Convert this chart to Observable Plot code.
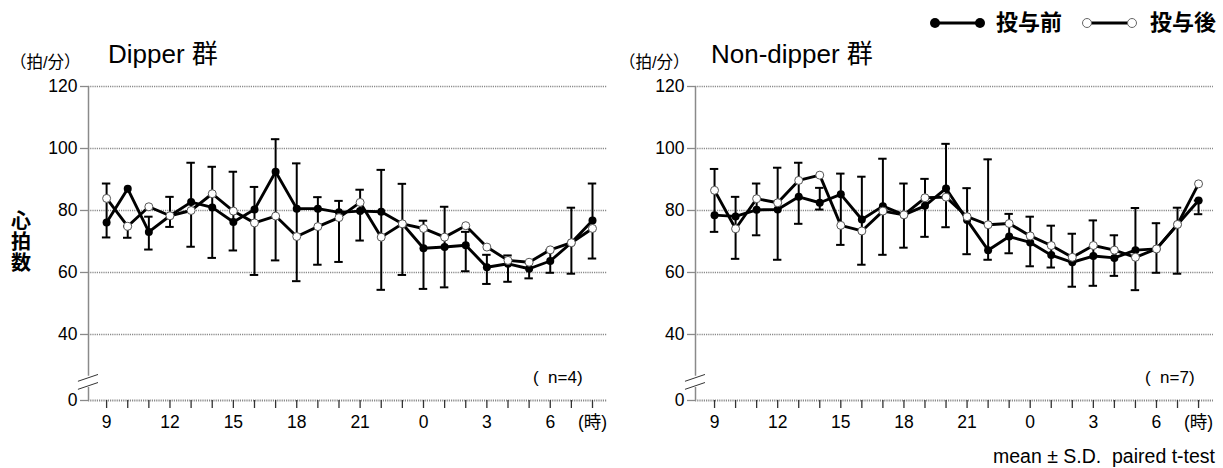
<!DOCTYPE html>
<html><head><meta charset="utf-8">
<script src="https://cdn.jsdelivr.net/npm/d3@7"></script>
<script src="https://cdn.jsdelivr.net/npm/@observablehq/plot@0.6"></script>
<style>
body{margin:0;background:#fff;}
#wrap{position:relative;width:1223px;height:468px;overflow:hidden;font-family:'Liberation Sans','Noto Sans CJK JP',sans-serif;color:#000;}
.abs{position:absolute;white-space:nowrap;line-height:1;}
.panel{position:absolute;top:0;}
</style></head><body><div id="wrap">
<div class="abs" style="left:10px;top:54px;font-size:16.5px;">（拍/分）</div>
<div class="abs" style="left:108px;top:41px;font-size:26px;">Dipper 群</div>
<div class="abs" style="left:11px;top:211px;font-size:20px;font-weight:bold;line-height:21px;width:22px;">心<br>拍<br>数</div>
<div class="abs" style="left:533px;top:369px;font-size:17px;">(&nbsp;&nbsp;n=4)</div>
<div class="abs" style="left:619px;top:54px;font-size:16.5px;">（拍/分）</div>
<div class="abs" style="left:711px;top:41px;font-size:26px;">Non-dipper 群</div>
<div class="abs" style="left:1145px;top:369px;font-size:17px;">(&nbsp;&nbsp;n=7)</div>
<svg class="abs" style="left:926px;top:13px;" width="62" height="20"><line x1="9" y1="10" x2="54" y2="10" stroke="#000" stroke-width="3"/><circle cx="9" cy="10" r="5" fill="#000"/><circle cx="54" cy="10" r="5" fill="#000"/></svg>
<div class="abs" style="left:996px;top:12px;font-size:22px;font-weight:bold;">投与前</div>
<svg class="abs" style="left:1078px;top:13px;" width="62" height="20"><line x1="9" y1="10" x2="54" y2="10" stroke="#000" stroke-width="3"/><circle cx="9" cy="10" r="4.5" fill="#fff" stroke="#666" stroke-width="1"/><circle cx="54" cy="10" r="4.5" fill="#fff" stroke="#666" stroke-width="1"/></svg>
<div class="abs" style="left:1150px;top:12px;font-size:22px;font-weight:bold;">投与後</div>
<div class="abs" style="right:8px;top:447px;font-size:19.5px;">mean ± S.D.&nbsp;&nbsp;paired t-test</div>
</div>
<script>
// clock hours, 9:00 through 8:00 next morning
const hours = [9,10,11,12,13,14,15,16,17,18,19,20,21,22,23,0,1,2,3,4,5,6,7,8];
const labeledHours = [9,12,15,18,21,0,3,6];
const unitLabel = "(時)";
const yTicks = [40,60,80,100,120];

// Dipper group (n=4)
const dipperPre  = [76.1,87.0,73.1,78.3,82.7,81.0,76.3,80.3,92.5,80.6,80.6,79.4,79.8,79.6,75.7,67.8,68.2,68.8,61.7,62.8,61.2,63.7,69.6,76.8];
const dipperPost = [83.9,74.9,81.2,78.3,80.0,85.4,79.8,76.0,78.2,71.6,74.8,77.7,82.6,71.4,75.7,74.2,71.4,75.1,68.2,63.9,63.3,67.3,69.6,74.2];
const dipperBarHi = [88.7,74.9,78.0,84.4,95.4,94.1,92.5,87.6,103.0,95.2,84.3,83.1,86.7,93.1,88.6,76.7,81.2,73.1,65.7,65.5,63.3,67.3,80.9,88.7];
const dipperBarLo = [71.3,71.2,67.4,74.7,68.3,64.7,67.1,59.2,63.9,57.2,62.5,63.4,70.3,54.4,59.2,54.7,55.2,60.4,56.3,57.0,58.1,59.9,59.6,64.5];

// Non-dipper group (n=7)
const nonPre  = [78.5,78.1,80.2,80.3,84.4,82.5,85.2,77.1,81.4,78.6,81.5,87.1,76.9,67.2,71.6,69.7,65.6,63.3,65.3,64.7,67.2,67.6,75.5,83.2];
const nonPost = [86.5,74.1,83.8,82.5,89.7,91.4,75.2,73.4,79.8,78.6,84.1,84.3,78.0,75.4,75.8,71.8,68.7,64.9,68.7,67.2,64.9,67.6,75.5,88.6];
const nonBarHi = [93.4,84.4,88.7,93.8,95.4,87.3,91.9,90.9,96.7,88.7,90.2,101.5,87.2,96.5,78.9,78.0,75.1,72.5,76.8,72.0,80.8,75.9,80.9,83.2];
const nonBarLo = [73.1,64.4,72.0,64.1,75.7,80.3,68.9,62.5,65.7,68.0,71.5,74.6,65.9,64.1,66.2,62.0,61.6,55.4,55.7,58.9,54.3,59.9,59.6,78.8];

// broken axis: the "0" baseline is drawn where 18.7 would fall on the 40–120 scale
const yZeroAt = 18.7;
const breakMarks = [26.0, 23.4];

const FONT = "'Liberation Sans','Noto Sans CJK JP',sans-serif";

function panel(pre, post, hi, lo, opts) {
  const idx = hours.map((h, i) => i);
  const preD = idx.map(i => ({i, v: pre[i]}));
  const postD = idx.map(i => ({i, v: post[i]}));
  const bars = idx.map(i => ({i, hi: hi[i], lo: lo[i]}));
  const x0 = opts.x0, x1 = 23.71;
  const capW = 0.2;
  return Plot.plot({
    width: opts.width, height: 468,
    marginLeft: opts.marginLeft, marginRight: opts.marginRight,
    marginTop: 86, marginBottom: 68,
    style: {fontFamily: FONT, fontSize: "17.5px", color: "#000", background: "transparent", overflow: "visible"},
    x: {domain: [x0, x1], axis: null},
    y: {domain: [yZeroAt, 120], axis: null},
    marks: [
      Plot.ruleY([40,60,80,100,120], {x1: x0, x2: x1, stroke: "#8a8a8a", strokeWidth: 1.3, strokeDasharray: "1.2,1"}),
      Plot.axisY({ticks: [yZeroAt, ...yTicks], tickFormat: d => d === yZeroAt ? "0" : String(d), tickSize: 8, tickPadding: 3, stroke: "#8a8a8a", strokeWidth: 1.3, fill: "#000", label: null}),
      Plot.ruleX([x0], {y1: 120, y2: breakMarks[0] + 0.5, stroke: "#8a8a8a", strokeWidth: 1.5}),
      Plot.ruleX([x0], {y1: breakMarks[1] - 0.5, y2: yZeroAt, stroke: "#8a8a8a", strokeWidth: 1.5}),
      Plot.link(breakMarks, {x1: x0 - 0.5, x2: x0 + 0.45, y1: d => d - 1.1, y2: d => d + 1.1, stroke: "#333", strokeWidth: 1}),
      Plot.ruleY([yZeroAt], {x1: x0, x2: x1, stroke: "#8a8a8a", strokeWidth: 2, strokeDasharray: "1.2,1"}),
      Plot.axisX({ticks: idx, tickFormat: i => i === 23 ? unitLabel : (labeledHours.includes(hours[i]) ? String(hours[i]) : ""), tickSize: 8, tickPadding: 7, stroke: "#333", strokeWidth: 1.3, fill: "#000", label: null, anchor: "bottom"}),
      Plot.ruleX(bars, {x: "i", y1: "lo", y2: "hi", stroke: "#000", strokeWidth: 2}),
      Plot.ruleY(bars, {y: "hi", x1: d => d.i - capW, x2: d => d.i + capW, stroke: "#000", strokeWidth: 2}),
      Plot.ruleY(bars, {y: "lo", x1: d => d.i - capW, x2: d => d.i + capW, stroke: "#000", strokeWidth: 2}),
      Plot.line(preD, {x: "i", y: "v", stroke: "#000", strokeWidth: 2.9}),
      Plot.line(postD, {x: "i", y: "v", stroke: "#000", strokeWidth: 2.9}),
      Plot.dot(preD, {x: "i", y: "v", r: 4, fill: "#000"}),
      Plot.dot(postD, {x: "i", y: "v", r: 4, fill: "#fff", stroke: "#555", strokeWidth: 1})
    ]
  });
}

const wrap = document.getElementById("wrap");
const left = panel(dipperPre, dipperPost, dipperBarHi, dipperBarLo, {width: 612, marginLeft: 88, marginRight: 5, x0: -0.857});
left.classList.add("panel"); left.style.left = "0px";
const right = panel(nonPre, nonPost, nonBarHi, nonBarLo, {width: 611, marginLeft: 83, marginRight: 10, x0: -0.905});
right.classList.add("panel"); right.style.left = "612px";
wrap.insertBefore(right, wrap.firstChild);
wrap.insertBefore(left, wrap.firstChild);
</script>
</body></html>
